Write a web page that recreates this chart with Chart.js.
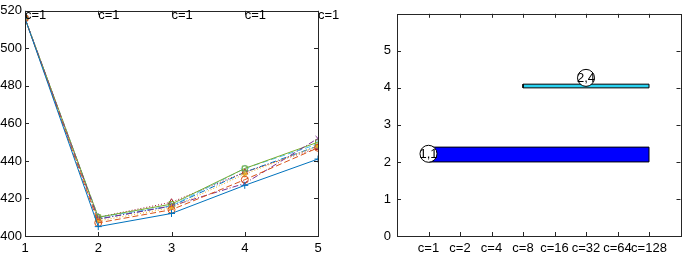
<!DOCTYPE html>
<html>
<head>
<meta charset="utf-8">
<script src="https://cdn.jsdelivr.net/npm/chart.js@4/dist/chart.umd.min.js"></script>
<style>
  body { margin: 0; background: #fff; }
  #wrap { position: relative; width: 690px; height: 256px; overflow: hidden; }
  canvas { position: absolute; top: 0; }
</style>
</head>
<body>
<div id="wrap">
  <canvas id="left" width="340" height="256" style="left:0"></canvas>
  <canvas id="right" width="350" height="256" style="left:340px"></canvas>
</div>
<script>
// left panel: iterations vs value
const steps = [1, 2, 3, 4, 5];
const s1 = [516, 405, 412, 427, 441];
const s2 = [516, 407, 414, 430, 447];
const s3 = [516, 408, 415, 433, 448];
const s4 = [516, 409, 416, 428, 452];
const s5 = [516, 410, 417, 436, 450];
const s6 = [516, 410, 416, 436, 449];
const s7 = [516, 410, 418, 434, 447];
const s8 = [516, 409, 416, 434, 448];
const topLabels = ['c=1', 'c=1', 'c=1', 'c=1', 'c=1'];
const topLabelY = 517.5;
const leftYTicks = [400, 420, 440, 460, 480, 500, 520];

// right panel: blocks per c value
const categories = ['c=1', 'c=2', 'c=4', 'c=8', 'c=16', 'c=32', 'c=64', 'c=128'];
const blockStart = [1, 4];
const blockEnd = [8, 8];
const blockLow = [2, 4];
const blockHigh = [2.4, 4.1];
const blockColors = ['#0000ff', '#29d3f2'];
const nodeLabels = ['1,1', '2,4'];
const nodeX = [1, 6];
const nodeY = [2.22, 4.27];

const FONT = '"Liberation Sans", Arial, sans-serif';
Chart.defaults.font.family = FONT;
Chart.defaults.font.size = 13;
Chart.defaults.color = '#222';

const colors = ['#0072BD', '#D95319', '#EDB120', '#7E2F8E', '#77AC30', '#4DBEEE', '#A2142F', '#0072BD'];
const dashes = [[], [6, 3], [1, 2], [6, 2, 1, 2], [], [6, 3], [1, 2], [6, 2, 1, 2]];
const markers = ['cross', 'circle', 'star', 'crossRot', 'rect', 'rectRot', 'triangle', 'triangle'];

// box + inward ticks, matlab style
const boxPlugin = {
  id: 'box',
  afterDraw(chart) {
    const ctx = chart.ctx, a = chart.chartArea;
    ctx.save();
    ctx.strokeStyle = '#262626';
    ctx.lineWidth = 1;
    ctx.strokeRect(Math.round(a.left) + 0.5, Math.round(a.top) + 0.5,
      Math.round(a.right - a.left), Math.round(a.bottom - a.top));
    const xs = chart.scales.x, ys = chart.scales.y;
    ctx.beginPath();
    xs.ticks.forEach(t => {
      const px = Math.round(xs.getPixelForValue(t.value)) + 0.5;
      ctx.moveTo(px, a.bottom); ctx.lineTo(px, a.bottom - 4);
      ctx.moveTo(px, a.top); ctx.lineTo(px, a.top + 4);
    });
    ys.ticks.forEach(t => {
      const py = Math.round(ys.getPixelForValue(t.value)) + 0.5;
      ctx.moveTo(a.left, py); ctx.lineTo(a.left + 4, py);
      ctx.moveTo(a.right, py); ctx.lineTo(a.right - 4, py);
    });
    ctx.stroke();
    ctx.restore();
  }
};

const topTextPlugin = {
  id: 'topText',
  afterDraw(chart) {
    const ctx = chart.ctx;
    ctx.save();
    ctx.font = '13px ' + FONT;
    ctx.fillStyle = '#000';
    ctx.textAlign = 'left';
    ctx.textBaseline = 'middle';
    steps.forEach((s, i) => {
      ctx.fillText(topLabels[i], chart.scales.x.getPixelForValue(s), chart.scales.y.getPixelForValue(topLabelY));
    });
    ctx.restore();
  }
};

const series = [s1, s2, s3, s4, s5, s6, s7, s8];
new Chart(document.getElementById('left'), {
  type: 'line',
  data: {
    datasets: series.map((s, i) => ({
      data: s.map((v, j) => ({ x: steps[j], y: v })),
      borderColor: colors[i],
      borderWidth: 1,
      borderDash: dashes[i],
      pointStyle: markers[i],
      pointRotation: i === 7 ? 180 : 0,
      pointRadius: 3.5,
      pointBorderColor: colors[i],
      pointBackgroundColor: 'rgba(0,0,0,0)',
      pointBorderWidth: 1,
      tension: 0
    }))
  },
  options: {
    responsive: false,
    animation: false,
    layout: { padding: { top: 5, right: 22, left: 0, bottom: 0 } },
    plugins: { legend: { display: false }, tooltip: { enabled: false } },
    scales: {
      x: {
        type: 'linear', min: 1, max: 5,
        afterBuildTicks: s => { s.ticks = steps.map(v => ({ value: v })); },
        afterFit: s => { s.height = 20; },
        grid: { display: false, drawTicks: false },
        border: { display: false },
        ticks: { padding: 5, maxRotation: 0, color: '#000' }
      },
      y: {
        min: 400, max: 520,
        afterBuildTicks: s => { s.ticks = leftYTicks.map(v => ({ value: v })); },
        afterFit: s => { s.width = 25; },
        grid: { display: false, drawTicks: false },
        border: { display: false },
        ticks: { padding: 3, color: '#000' }
      }
    }
  },
  plugins: [boxPlugin, topTextPlugin]
});

const nodeTextPlugin = {
  id: 'nodeText',
  afterDatasetsDraw(chart) {
    const ctx = chart.ctx;
    ctx.save();
    ctx.font = '13px ' + FONT;
    ctx.fillStyle = '#000';
    ctx.textAlign = 'center';
    ctx.textBaseline = 'middle';
    nodeLabels.forEach((t, i) => {
      ctx.fillText(t, chart.scales.x.getPixelForValue(nodeX[i]), chart.scales.y.getPixelForValue(nodeY[i]) + 1);
    });
    ctx.restore();
  }
};

const blockSets = blockStart.map((st, i) => ({
  data: [
    { x: st, y: blockLow[i] }, { x: blockEnd[i], y: blockLow[i] },
    { x: blockEnd[i], y: blockHigh[i] }, { x: st, y: blockHigh[i] }, { x: st, y: blockLow[i] }
  ],
  borderColor: '#000',
  borderWidth: 1,
  backgroundColor: blockColors[i],
  fill: 'shape',
  pointRadius: 0,
  tension: 0,
  order: 2
}));

new Chart(document.getElementById('right'), {
  type: 'line',
  data: {
    datasets: [{
      data: nodeX.map((x, i) => ({ x: x, y: nodeY[i] })),
      showLine: false,
      pointRadius: 8.5,
      pointBorderColor: '#000',
      pointBackgroundColor: '#fff',
      pointBorderWidth: 1,
      order: 0
    }].concat(blockSets)
  },
  options: {
    responsive: false,
    animation: false,
    layout: { padding: { top: 5, right: 0, left: 0, bottom: 0 } },
    plugins: { legend: { display: false }, tooltip: { enabled: false } },
    scales: {
      x: {
        type: 'linear', min: 0, max: 9,
        afterBuildTicks: s => { s.ticks = categories.map((c, i) => ({ value: i + 1 })); },
        afterFit: s => { s.height = 20; },
        grid: { display: false, drawTicks: false },
        border: { display: false },
        ticks: { padding: 5, maxRotation: 0, autoSkip: false, color: '#000',
          callback: (v) => categories[v - 1] }
      },
      y: {
        min: 0, max: 6,
        ticks: { stepSize: 1, padding: 6, color: '#000', callback: v => (v === 6 ? '' : v) },
        afterFit: s => { s.width = 57; },
        grid: { display: false, drawTicks: false },
        border: { display: false }
      }
    }
  },
  plugins: [boxPlugin, nodeTextPlugin]
});
</script>
</body>
</html>
